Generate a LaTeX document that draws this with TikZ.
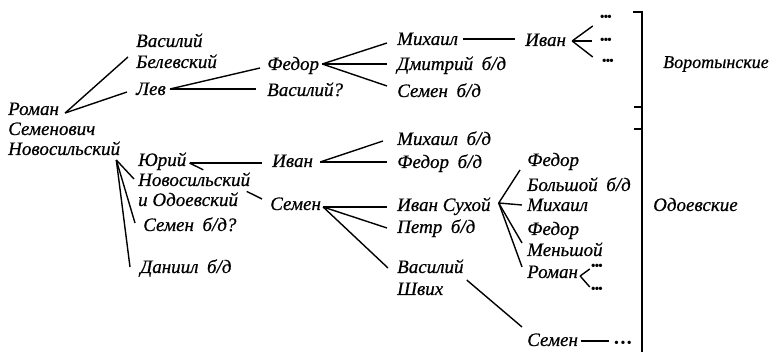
\documentclass[tikz,border=0pt]{standalone}
\usepackage{fontspec}
\setmainfont{Liberation Serif}[ItalicFeatures={FakeBold=0.6}]
\usetikzlibrary{calc}
\newcommand{\mydots}{•\hspace{-1.3pt}•\hspace{-1.3pt}•}
\begin{document}
\begin{tikzpicture}[x=1pt,y=-1pt,
  t/.style={anchor=base west,inner sep=0pt,font=\fontsize{19}{21}\selectfont\itshape},
  dots/.style={inner sep=0pt,font=\fontsize{14}{14}\selectfont},
  ln/.style={line width=1.4pt},
  br/.style={line width=1.7pt}]
\useasboundingbox (0,0) rectangle (769,352);
% --- nodes
\node[t] (rom1) at (8,115) {Роман};
\node[t] (rom2) at (8,135) {Семенович};
\node[t] (rom3) at (8,155) {Новосильский};
\node[t] (vasA) at (136,47) {Василий};
\node[t] (vasB) at (136,68) {Белевский};
\node[t] (lev) at (136,95) {Лев};
\node[t] (fedA) at (267,70) {Федор};
\node[t] (vasQ) at (267,96) {Василий?};
\node[t] (mihA) at (397,45) {Михаил};
\node[t] (dmi) at (397,70) {Дмитрий\hspace{0.45em}б/д};
\node[t] (semA) at (397,97) {Семен\hspace{0.45em}б/д};
\node[t] (ivanA) at (525,46) {Иван};
\node[dots] (dA1) at (606,18) {\mydots};
\node[dots] (dA2) at (606,41) {\mydots};
\node[dots] (dA3) at (608,62) {\mydots};
\node[t,font=\fontsize{18}{20}\selectfont\itshape] (vor) at (663,68) {Воротынские};
\node[t] (yur) at (138,166) {Юрий};
\node[t] (nov) at (138,186) {Новосильский};
\node[t] (iod) at (138,206) {и Одоевский};
\node[t] (semQ) at (143,231) {Семен\hspace{0.45em}б/д?};
\node[t] (dan) at (140,273) {Даниил\hspace{0.45em}б/д};
\node[t] (ivanB) at (272,167) {Иван};
\node[t] (mihB) at (397,145) {Михаил\hspace{0.45em}б/д};
\node[t] (fedB) at (397,168) {Федор\hspace{0.45em}б/д};
\node[t] (semB) at (270,210) {Семен};
\node[t] (ivs) at (397,211) {Иван Сухой};
\node[t] (pet) at (397,233) {Петр\hspace{0.45em}б/д};
\node[t] (vshA) at (397,273) {Василий};
\node[t] (vshB) at (397,295) {Швих};
\node[t] (fedC) at (527,166) {Федор};
\node[t] (bol) at (527,191) {Большой\hspace{0.45em}б/д};
\node[t] (mihC) at (527,211) {Михаил};
\node[t] (fedD) at (527,235) {Федор};
\node[t] (men) at (527,256) {Меньшой};
\node[t] (romB) at (527,278) {Роман};
\node[dots] (dB1) at (597,267) {\mydots};
\node[dots] (dB2) at (597,290) {\mydots};
\node[t] (semC) at (527,346) {Семен};
\node[dots] (dC) at (623,344) {•\hspace{1.5pt}•\hspace{1.5pt}•};
\node[t] (odo) at (653,211) {Одоевские};
% --- connectors
\coordinate (rA) at ([shift={(6,-2)}]rom1.base east);
\draw[ln] (rA) -- ([shift={(-8,-11)}]vasB.base west);
\draw[ln] (rA) -- ([shift={(-9,-3)}]lev.base west);
\coordinate (lA) at ([shift={(4,-6)}]lev.base east);
\draw[ln] (lA) -- ([shift={(-7,-2)}]fedA.base west);
\draw[ln] (lA) -- ([shift={(-11,-7)}]vasQ.base west);
\coordinate (fA) at ([shift={(3,-6)}]fedA.base east);
\draw[ln] (fA) -- ([shift={(-10,-2)}]mihA.base west);
\draw[ln] (fA) -- ([shift={(-10,-6)}]dmi.base west);
\draw[ln] (fA) -- ([shift={(-10,-11)}]semA.base west);
\draw[ln] ([shift={(5,-6)}]mihA.base east) -- ([shift={(-10,-7)}]ivanA.base west);
\coordinate (iA) at ([shift={(6,-5)}]ivanA.base east);
\draw[ln] (iA) -- ([shift={(-7,8)}]dA1.west);
\draw[ln] (iA) -- ([shift={(-8,0)}]dA2.west);
\draw[ln] (iA) -- ([shift={(-9,-5)}]dA3.west);
\coordinate (nA) at ([shift={(-4,5)}]rom3.base east);
\draw[ln] (nA) -- ([shift={(-4,-7)}]nov.base west);
\draw[ln] (nA) -- ([shift={(-8,-8)}]semQ.base west);
\draw[ln] (nA) -- ([shift={(-10,-6)}]dan.base west);
\coordinate (yA) at ([shift={(3,-3)}]yur.base east);
\coordinate (yS) at ([shift={(-8,-11)}]semB.base west);
\draw[ln] (yA) -- ([shift={(-10,-4)}]ivanB.base west);
\draw[ln] (yA) -- ($(yA)!0.19!(yS)$);
\draw[ln] ($(yA)!0.79!(yS)$) -- (yS);
\coordinate (ibA) at ([shift={(7,-5)}]ivanB.base east);
\draw[ln] (ibA) -- ([shift={(-14,-4)}]mihB.base west);
\draw[ln] (ibA) -- ([shift={(-10,-6)}]fedB.base west);
\coordinate (sA) at ([shift={(2,-3)}]semB.base east);
\draw[ln] (sA) -- ([shift={(-10,-4)}]ivs.base west);
\draw[ln] (sA) -- ([shift={(-10,-5)}]pet.base west);
\draw[ln] (sA) -- ([shift={(-9,-5)}]vshA.base west);
\draw[ln] ([shift={(3,7)}]vshA.base east) -- ([shift={(-5,-19)}]semC.base west);
\draw[ln] ([shift={(3,-5)}]semC.base east) -- ([shift={(-5,-3)}]dC.west);
\coordinate (isA) at ([shift={(8,-8)}]ivs.base east);
\draw[ln] (isA) -- ([shift={(-7,4)}]fedC.base west);
\draw[ln] (isA) -- ([shift={(-5,-6)}]mihC.base west);
\draw[ln] (isA) -- ([shift={(-5,8)}]fedD.base west);
\draw[ln] (isA) -- ([shift={(-5,-11)}]romB.base west);
\coordinate (rbA) at ([shift={(2,-2)}]romB.base east);
\draw[ln] (rbA) -- ([shift={(-1,2)}]dB1.west);
\draw[ln] (rbA) -- ([shift={(-1,-3)}]dB2.west);
% --- bracket
\draw[br] (633,12) -- (642,12) -- (642,352);
\draw[br] (634,107) -- (642,107);
\draw[br] (634,129) -- (642,129);
\end{tikzpicture}
\end{document}
